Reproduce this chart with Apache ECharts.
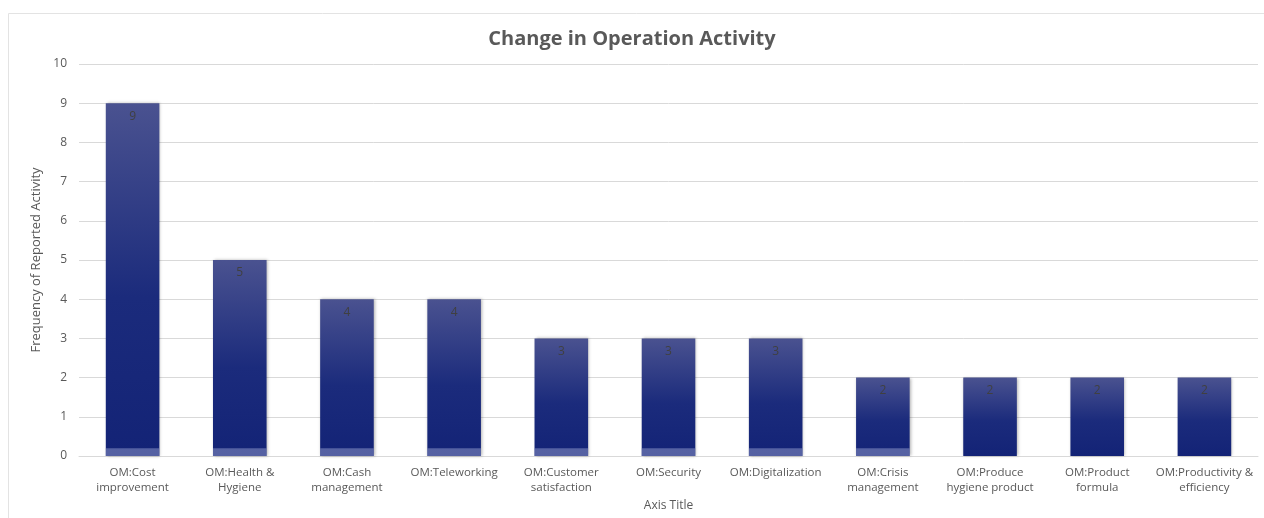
<!DOCTYPE html>
<html><head><meta charset="utf-8">
<script src="https://cdn.jsdelivr.net/npm/echarts@6/dist/echarts.min.js"></script>
<style>html,body{margin:0;padding:0;background:#fff;}#c{width:1264px;height:518px;}</style>
</head><body><div id="c"></div>
<script>
const categories = ["OM:Cost\nimprovement","OM:Health &\nHygiene","OM:Cash\nmanagement","OM:Teleworking","OM:Customer\nsatisfaction","OM:Security","OM:Digitalization","OM:Crisis\nmanagement","OM:Produce\nhygiene product","OM:Product\nformula","OM:Productivity &\nefficiency"];
const values = [9,5,4,4,3,3,3,2,2,2,2];
const baseBand = [0.2,0.2,0.2,0.2,0.2,0.2,0.2,0.2,0,0,0];
const yTicks = [0,1,2,3,4,5,6,7,8,9,10];

const chart = echarts.init(document.getElementById('c'), null, {renderer:'canvas'});
const font = '"Open Sans", "Liberation Sans", sans-serif';
chart.setOption({
  animation:false,
  backgroundColor:'#fff',
  graphic:[{type:'rect',shape:{x:8.5,y:13.5,width:1260,height:520},style:{fill:'none',stroke:'#e3e3e3',lineWidth:1},z:-1}],
  title:{text:'Change in Operation Activity',left:'center',top:24,textStyle:{fontFamily:font,fontSize:20,fontWeight:'bold',color:'#595959'}},
  grid:{left:79,right:6,top:64,bottom:62},
  xAxis:{type:'category',data:categories,
    name:'Axis Title',nameLocation:'middle',nameGap:42,nameTextStyle:{fontFamily:font,fontSize:12,color:'#595959'},
    axisTick:{show:false},axisLine:{lineStyle:{color:'#d9d9d9'}},
    axisLabel:{fontFamily:font,fontSize:11.5,color:'#595959',lineHeight:15,margin:9,interval:0}},
  yAxis:{type:'value',min:yTicks[0],max:yTicks[yTicks.length-1],interval:1,
    name:'Frequency of Reported Activity',nameLocation:'middle',nameGap:33,nameRotate:90,
    nameTextStyle:{fontFamily:font,fontSize:13,color:'#595959'},
    axisLabel:{fontFamily:font,fontSize:12,color:'#595959',margin:12},
    axisLine:{show:false},axisTick:{show:false},
    splitLine:{lineStyle:{color:'#d9d9d9',width:1}}},
  series:[{type:'bar',data:values,barWidth:'50%',
    itemStyle:{color:new echarts.graphic.LinearGradient(0,0,0,1,[{offset:0,color:'#4a5290'},{offset:0.55,color:'#1b2b7c'},{offset:1,color:'#132376'}]),
      shadowBlur:3,shadowColor:'rgba(0,0,0,0.3)',shadowOffsetX:1,shadowOffsetY:0},
    label:{show:true,position:'insideTop',distance:7,fontFamily:font,fontSize:12,color:'#404040'}},
   {type:'bar',data:baseBand,barWidth:'50%',barGap:'-100%',silent:true,
    itemStyle:{color:'rgba(140,150,200,0.55)'},z:3}
  ]
});
</script></body></html>
